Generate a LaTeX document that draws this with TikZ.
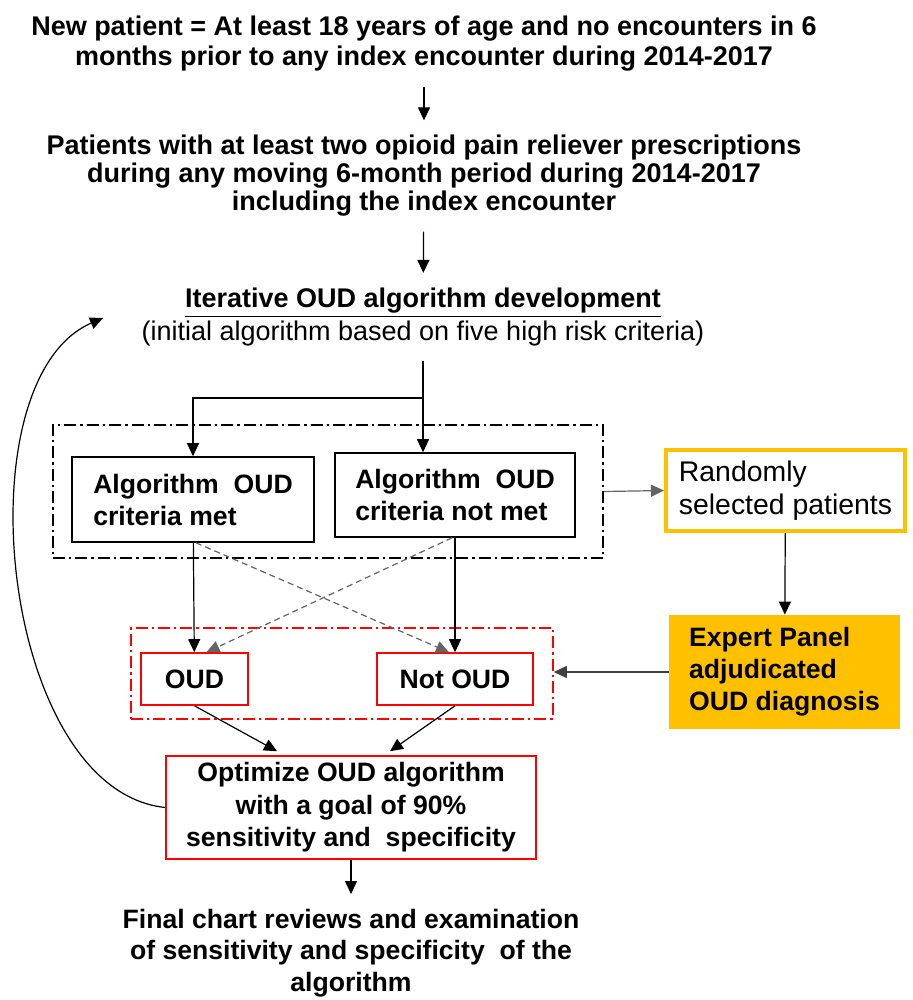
\documentclass[tikz,border=0pt]{standalone}
\usepackage{fontspec}
\setmainfont{Liberation Sans}
\usepackage{tikz}
\usetikzlibrary{arrows.meta}
\definecolor{oudred}{RGB}{255, 0, 0}
\definecolor{panelgold}{RGB}{255, 192, 0}
\definecolor{linegray}{RGB}{100, 100, 100}

\begin{document}
\begin{tikzpicture}[x=0.5pt, y=-0.5pt,
	arr/.style={-{Triangle[length=6.5pt, width=6pt]}, line width=0.6pt},
	plain/.style={align=center, inner sep=0pt, outer sep=7.5pt, font=\bfseries\fontsize{13.5}{15}\selectfont},
	critbox/.style={draw, line width=0.8pt, align=left, inner sep=0pt, font=\bfseries\fontsize{13.3}{16}\selectfont},
	redbox/.style={critbox, draw=oudred, align=center},
	dashdot/.style={draw, line width=0.8pt, inner sep=0pt, dash pattern=on 6pt off 2pt on 1.2pt off 2pt},
	crossarr/.style={arr, draw=linegray, dash pattern=on 3pt off 2pt}]
	\useasboundingbox (0,0) rectangle (912,1000);
	\node[plain] (title) at (424, 44) {New patient = At least 18 years of age and no encounters in 6\\months prior to any index encounter during 2014-2017};
	\node[plain, font=\bfseries\fontsize{13.5}{14}\selectfont] (patients) at (424, 176) {Patients with at least two opioid pain reliever prescriptions\\during any moving 6-month period during 2014-2017\\including the index encounter};
	\node[plain, font=\fontsize{13.5}{16.5}\selectfont] (iter) at (423, 317) {\textbf{\underline{Iterative OUD algorithm development}}\\(initial algorithm based on five high risk criteria)};
	\coordinate (split) at (423, 398);

	\node[dashdot, minimum width=275pt, minimum height=66.5pt] (grpalgo) at (328, 491.5) {};
	\node[critbox, minimum width=121pt, minimum height=42.5pt] (crit1) at (193, 499.5) {Algorithm~ OUD\\criteria met};
	\node[critbox, minimum width=120pt, minimum height=42pt] (crit2) at (455, 495) {Algorithm~ OUD\\criteria not met};
	\node[draw=panelgold, line width=2pt, align=left, inner sep=0pt, minimum width=119.5pt, minimum height=40.5pt, font=\fontsize{14.2}{16.5}\selectfont] (random) at (785.5, 490.5) {Randomly\\selected patients};
	\node[fill=panelgold, align=left, inner sep=0pt, minimum width=115.5pt, minimum height=57pt, font=\bfseries\fontsize{13.3}{16}\selectfont] (expert) at (784.5, 672) {Expert Panel\\adjudicated\\OUD diagnosis};

	\node[dashdot, draw=oudred, minimum width=211pt, minimum height=45.5pt] (grpoud) at (342, 673.5) {};
	\node[redbox, minimum width=53.5pt, minimum height=26pt] (oud) at (194.5, 679) {OUD};
	\node[redbox, minimum width=78pt, minimum height=26pt] (notoud) at (455, 679) {Not OUD};
	\node[redbox, minimum width=185pt, minimum height=51.5pt, font=\bfseries\fontsize{13.3}{16.2}\selectfont] (optimize) at (351, 807.5) {Optimize OUD algorithm\\with a goal of 90\%\\sensitivity and~ specificity};
	\node[plain, font=\bfseries\fontsize{13.3}{15.75}\selectfont] (final) at (351, 953) {Final chart reviews and examination\\of sensitivity and specificity~ of the\\algorithm};
	\coordinate (loopend) at (103, 318);

	\draw[arr] (title) -- (patients);
	\draw[arr] (patients) -- (iter);
	\draw[line width=0.6pt] (iter.south) -- (split);
	\draw[arr] (split) -- (split -| crit1.north) -- (crit1.north);
	\draw[arr] (split) -- (split |- crit2.north);
	\draw[crossarr] ([xshift=1.5pt]crit1.south) -- ([xshift=-3pt]notoud.north);
	\draw[crossarr] ([xshift=-1.5pt]crit2.south) -- ([xshift=6pt]oud.north);
	\draw[arr] (crit1) -- (oud);
	\draw[arr] (crit2) -- (notoud);
	\draw[arr, draw=linegray] (grpalgo.east) -- (random.west);
	\draw[arr] (random) -- (expert);
	\draw[arr, draw=black!75] (expert.west) -- (expert.west -| grpoud.east);
	\draw[arr] (oud.south) -- ([xshift=-37pt, yshift=2pt]optimize.north);
	\draw[arr] (notoud.south) -- ([xshift=19.5pt, yshift=2pt]optimize.north);
	\draw[arr] (optimize.south) -- (final);
	\draw[arr] (optimize.west) .. controls (0, 790) and (-40, 380) .. (loopend);
\end{tikzpicture}
\end{document}
